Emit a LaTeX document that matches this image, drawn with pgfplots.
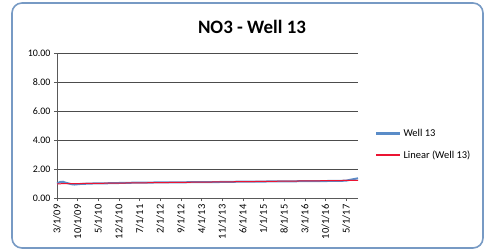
\documentclass[border=0pt]{standalone}
\usepackage{pgfplots}
\pgfplotsset{compat=1.18}
\usepackage{fontspec}
\setmainfont{Carlito}
\definecolor{wellblue}{RGB}{90,140,200}
\definecolor{trendred}{RGB}{235,20,50}
\definecolor{frameblue}{RGB}{60,110,170}
\begin{document}
\begin{tikzpicture}[x=1bp,y=1bp]
\path (0,0) rectangle (485,251);
\draw[frameblue!70, line width=1.6bp, rounded corners=10bp] (12,3) rectangle (483,248);
\node[font=\fontsize{19}{22}\selectfont\bfseries] at (252,224) {NO3 - Well 13};
\begin{axis}[
  at={(57bp,53bp)}, anchor=south west,
  scale only axis, width=301bp, height=145bp,
  xmin=0, xmax=102, ymin=0, ymax=10,
  axis x line=bottom, axis y line=left,
  axis line style={-, gray!70!black, line width=0.6bp},
  tick align=outside, tick style={gray!70!black, line width=0.6bp},
  major tick length=3bp,
  ytick={0,2,4,6,8,10},
  ymajorgrids, grid style={gray!60!black, line width=0.6bp},
  yticklabel style={/pgf/number format/fixed, /pgf/number format/fixed zerofill, /pgf/number format/precision=2, font=\fontsize{10}{12}\selectfont},
  /pgf/number format/assume math mode=true,
  xtick={0,7,14,21,28,35,42,49,56,63,70,77,84,91,98},
  xticklabels={3/1/09,10/1/09,5/1/10,12/1/10,7/1/11,2/1/12,9/1/12,4/1/13,11/1/13,6/1/14,1/1/15,8/1/15,3/1/16,10/1/16,5/1/17},
  xticklabel style={rotate=90, anchor=east, font=\fontsize{10.5}{12}\selectfont},
  legend style={at={(1.055,0.37)}, anchor=west, draw=none, fill=none, font=\fontsize{10.5}{12}\selectfont, row sep=9bp, inner xsep=0pt},
  legend cell align=left,
  clip=false,
]
\addlegendimage{legend image code/.code={\draw[wellblue, line width=2.8bp] (0bp,0bp) -- (24bp,0bp);}}
\addlegendentry{Well 13}
\addlegendimage{legend image code/.code={\draw[trendred, line width=1.6bp] (0bp,0bp) -- (24bp,0bp);}}
\addlegendentry{Linear (Well 13)}
\addplot[wellblue, line width=2bp, forget plot] coordinates {
(0,1.00) (1,1.10) (2,1.12) (3,1.05) (5,0.95) (6,0.93) (8,0.97) (12,1.00)
(18,1.02) (24,1.05) (30,1.06) (36,1.08) (42,1.08) (48,1.10) (54,1.10)
(60,1.12) (66,1.13) (72,1.14) (78,1.15) (84,1.16) (90,1.17) (96,1.18)
(98,1.20) (100,1.28) (102,1.36)};
\addplot[trendred, line width=1bp, forget plot] coordinates {(0,0.98) (102,1.22)};
\end{axis}
\end{tikzpicture}
\end{document}
